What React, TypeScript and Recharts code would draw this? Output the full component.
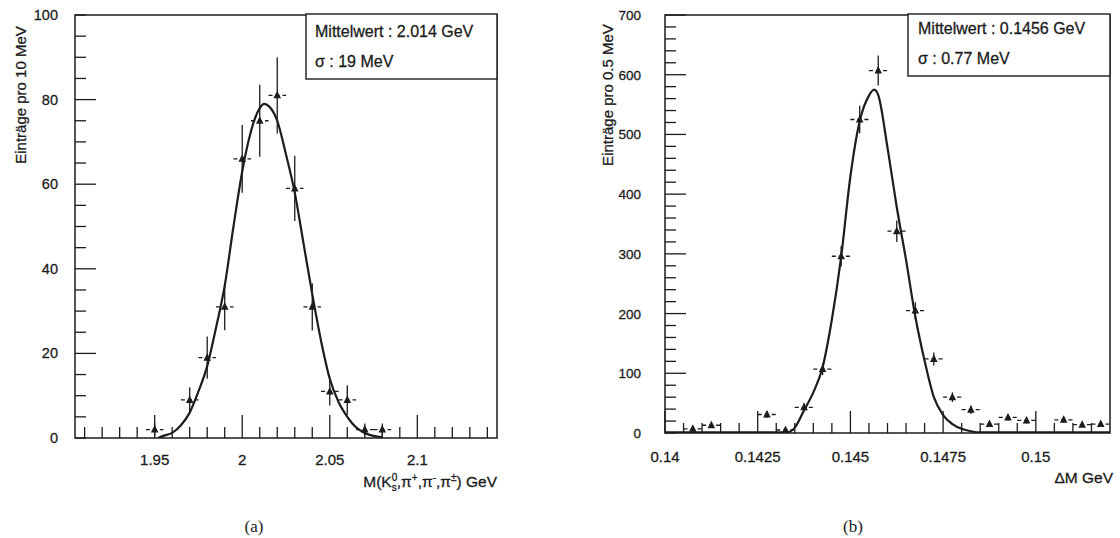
import React from 'react';
import { ComposedChart, Scatter, Line, XAxis, YAxis, ErrorBar, ReferenceArea } from 'recharts';

// ---------- Panel (a) data ----------
const leftBinX = [1.95, 1.97, 1.98, 1.99, 2.0, 2.01, 2.02, 2.03, 2.04, 2.05, 2.06, 2.07, 2.08];
const leftCounts = [2, 9, 19, 31, 66, 75, 81, 59, 31, 11, 9, 2, 2];
const leftErrors = [1.5, 3, 5, 5.5, 8, 8.5, 9, 7.7, 5.6, 3.3, 3.5, 1.4, 1.4];
const leftBinHalf = 0.005;
const leftFitX = [1.952, 1.955, 1.96, 1.965, 1.97, 1.975, 1.98, 1.985, 1.99, 1.995, 2.0, 2.005, 2.01, 2.0125, 2.015, 2.02, 2.025, 2.03, 2.035, 2.04, 2.045, 2.05, 2.055, 2.06, 2.065, 2.07, 2.075, 2.08];
const leftFitY = [0, 0.5, 1.2, 3, 6, 11, 17, 26, 36, 50, 63, 72.5, 78, 79, 78.5, 75, 67, 58, 46, 34, 23, 14, 8.5, 5, 2.5, 1.2, 0.5, 0.2];
const leftXTicks = [1.91, 1.92, 1.93, 1.94, 1.95, 1.96, 1.97, 1.98, 1.99, 2.0, 2.01, 2.02, 2.03, 2.04, 2.05, 2.06, 2.07, 2.08, 2.09, 2.1, 2.11, 2.12, 2.13, 2.14];
const leftXLabels = [1.95, 2, 2.05, 2.1];
const leftYTicks = [0, 5, 10, 15, 20, 25, 30, 35, 40, 45, 50, 55, 60, 65, 70, 75, 80, 85, 90, 95, 100];
const leftYLabels = [0, 20, 40, 60, 80, 100];

// ---------- Panel (b) data ----------
const rightBinX = [0.14075, 0.14125, 0.14275, 0.14325, 0.14375, 0.14425, 0.14475, 0.14525, 0.14575, 0.14625, 0.14675, 0.14725, 0.14775, 0.14825, 0.14875, 0.14925, 0.14975, 0.15075, 0.15125, 0.15175];
const rightCounts = [7, 13, 31, 5, 43, 107, 296, 525, 607, 338, 205, 124, 60, 39, 15, 26, 21, 22, 14, 15];
const rightErrors = [3, 4, 6, 2.5, 7, 10, 17, 23, 25, 18, 14, 11, 8, 7, 4, 5, 5, 5, 4, 4];
const rightBinHalf = 0.00025;
const rightFitX = [0.14, 0.141, 0.142, 0.143, 0.1433, 0.1435, 0.14375, 0.144, 0.14425, 0.1445, 0.14475, 0.145, 0.14525, 0.1455, 0.14564, 0.14575, 0.146, 0.14625, 0.1465, 0.14675, 0.147, 0.14725, 0.1475, 0.14775, 0.148, 0.14825, 0.1485, 0.149, 0.15, 0.152];
const rightFitY = [1, 1, 1, 1, 1, 9, 38, 68, 110, 190, 295, 430, 522, 565, 575, 566, 478, 378, 290, 195, 121, 60, 30, 15, 7, 3, 1, 1, 1, 1];
const rightXTicks = [0.14, 0.1405, 0.141, 0.1415, 0.142, 0.1425, 0.143, 0.1435, 0.144, 0.1445, 0.145, 0.1455, 0.146, 0.1465, 0.147, 0.1475, 0.148, 0.1485, 0.149, 0.1495, 0.15, 0.1505, 0.151, 0.1515];
const rightXLabels = [0.14, 0.1425, 0.145, 0.1475, 0.15];
const rightYTicks = [0, 20, 40, 60, 80, 100, 120, 140, 160, 180, 200, 220, 240, 260, 280, 300, 320, 340, 360, 380, 400, 420, 440, 460, 480, 500, 520, 540, 560, 580, 600, 620, 640, 660, 680, 700];
const rightYLabels = [0, 100, 200, 300, 400, 500, 600, 700];

const INK = '#1c1c1c';
const FONT = '"Liberation Sans", Arial, Helvetica, sans-serif';
const TXT = { fontFamily: FONT, fill: INK, stroke: INK, strokeWidth: 0.3 };

const has = (arr: number[], v: number) => arr.some((a) => Math.abs(a - v) < 1e-9);

const makeXTick = (labels: number[], longLen: number, shortLen: number, labelDy: number) => (props: any) => {
  const { x, y, payload } = props;
  const v = payload.value;
  const major = has(labels, v);
  return (
    <g>
      <line x1={x} x2={x} y1={y} y2={y - (major ? longLen : shortLen)} stroke={INK} strokeWidth={1.3} />
      {major && (
        <text x={x} y={y + labelDy} textAnchor="middle" fontSize={15} {...TXT}>
          {String(v)}
        </text>
      )}
    </g>
  );
};

const makeYTick = (labels: number[], majors: number[], longLen: number, shortLen: number, labelDx: number, fs: number) => (props: any) => {
  const { x, y, payload } = props;
  const v = payload.value;
  const major = has(majors, v);
  const lab = has(labels, v);
  return (
    <g>
      <line x1={x} x2={x + (major ? longLen : shortLen)} y1={y} y2={y} stroke={INK} strokeWidth={1.3} />
      {lab && (
        <text x={x - labelDx} y={y + 5} textAnchor="end" fontSize={fs} {...TXT}>
          {String(v)}
        </text>
      )}
    </g>
  );
};

const Triangle = (props: any) => {
  const { cx, cy } = props;
  if (cx == null || cy == null) return null;
  return <polygon points={`${cx - 3.8},${cy + 3} ${cx + 3.8},${cy + 3} ${cx},${cy - 4.5}`} fill={INK} />;
};

const leftPoints = leftBinX.map((x, i) => ({ x, y: leftCounts[i], ey: leftErrors[i], ex: leftBinHalf }));
const leftFit = leftFitX.map((x, i) => ({ x, y: leftFitY[i] }));
const rightPoints = rightBinX.map((x, i) => ({ x, y: rightCounts[i], ey: rightErrors[i], ex: rightBinHalf }));
const rightFit = rightFitX.map((x, i) => ({ x, y: rightFitY[i] }));

export default function App() {
  return (
    <div style={{ position: 'absolute', left: 0, top: 0, width: 1120, height: 538, background: '#fff' }}>
      <div style={{ position: 'absolute', left: 0, top: 0 }}>
        <ComposedChart width={560} height={538} margin={{ top: 15, left: 35, right: 63, bottom: 70 }}>
          <XAxis
            type="number"
            dataKey="x"
            domain={[1.9045, 2.1455]}
            allowDataOverflow
            ticks={leftXTicks}
            interval={0}
            tickSize={0}
            tickMargin={0}
            axisLine={false}
            tickLine={false}
            height={30}
            tick={makeXTick(leftXLabels, 23, 11, 27)}
          />
          <YAxis
            type="number"
            dataKey="y"
            domain={[0, 100]}
            allowDataOverflow
            ticks={leftYTicks}
            interval={0}
            tickSize={0}
            tickMargin={0}
            axisLine={false}
            tickLine={false}
            width={40}
            tick={makeYTick(leftYLabels, [20, 40, 60, 80], 21, 11, 17, 14.5)}
          />
          <ReferenceArea x1={1.9045} x2={2.1455} y1={0} y2={100} fill="none" stroke={INK} strokeWidth={1.5} />
          <Line data={leftFit} dataKey="y" type="monotone" dot={false} stroke={INK} strokeWidth={2.2} isAnimationActive={false} />
          <Scatter data={leftPoints} dataKey="y" shape={Triangle} isAnimationActive={false}>
            <ErrorBar dataKey="ey" direction="y" width={0} stroke={INK} strokeWidth={1.3} />
            <ErrorBar dataKey="ex" direction="x" width={0} stroke={INK} strokeWidth={1.3} strokeDasharray="4 3" />
          </Scatter>
        </ComposedChart>
      </div>
      <div style={{ position: 'absolute', left: 560, top: 0 }}>
        <ComposedChart width={560} height={538} margin={{ top: 15, left: 65, right: 10, bottom: 75 }}>
          <XAxis
            type="number"
            dataKey="x"
            domain={[0.14, 0.152]}
            allowDataOverflow
            ticks={rightXTicks}
            interval={0}
            tickSize={0}
            tickMargin={0}
            axisLine={false}
            tickLine={false}
            height={30}
            tick={makeXTick(rightXLabels, 22, 10, 29)}
          />
          <YAxis
            type="number"
            dataKey="y"
            domain={[0, 700]}
            allowDataOverflow
            ticks={rightYTicks}
            interval={0}
            tickSize={0}
            tickMargin={0}
            axisLine={false}
            tickLine={false}
            width={40}
            tick={makeYTick(rightYLabels, [100, 200, 300, 400, 500, 600, 700], 21, 11, 24, 13.5)}
          />
          <ReferenceArea x1={0.14} x2={0.152} y1={0} y2={700} fill="none" stroke={INK} strokeWidth={1.5} />
          <Line data={rightFit} dataKey="y" type="monotone" dot={false} stroke={INK} strokeWidth={2.2} isAnimationActive={false} />
          <Scatter data={rightPoints} dataKey="y" shape={Triangle} isAnimationActive={false}>
            <ErrorBar dataKey="ey" direction="y" width={0} stroke={INK} strokeWidth={1.3} />
            <ErrorBar dataKey="ex" direction="x" width={0} stroke={INK} strokeWidth={1.3} strokeDasharray="4 3" />
          </Scatter>
        </ComposedChart>
      </div>
      <svg width={1120} height={538} style={{ position: 'absolute', left: 0, top: 0, pointerEvents: 'none' }}>
        <g {...TXT} fontSize={15}>
          <text transform="translate(26,95) rotate(-90)" textAnchor="middle">Einträge pro 10 MeV</text>
          <text transform="translate(613,95) rotate(-90)" textAnchor="middle">Einträge pro 0.5 MeV</text>
        </g>
        <rect x={306} y={14} width={191} height={65} fill="#fff" stroke={INK} strokeWidth={1.4} />
        <rect x={908} y={14} width={202} height={62} fill="#fff" stroke={INK} strokeWidth={1.4} />
        <g {...TXT} fontSize={16}>
          <text x={315} y={37}>Mittelwert : 2.014 GeV</text>
          <text x={315} y={67}>σ : 19 MeV</text>
          <text x={918} y={34}>Mittelwert : 0.1456 GeV</text>
          <text x={918} y={64}>σ : 0.77 MeV</text>
        </g>
        <g {...TXT} fontSize={15.5}>
          <text x={497} y={487} textAnchor="end">
            M(K
            <tspan fontSize={10} dy={-6}>0</tspan>
            <tspan fontSize={10} dx={-5.5} dy={10}>s</tspan>
            <tspan dy={-4}>,π</tspan>
            <tspan fontSize={10} dy={-6}>+</tspan>
            <tspan dy={6}>,π</tspan>
            <tspan fontSize={10} dy={-6}>-</tspan>
            <tspan dy={6}>,π</tspan>
            <tspan fontSize={10} dy={-6}>±</tspan>
            <tspan dy={6}>) GeV</tspan>
          </text>
          <text x={1113} y={483} textAnchor="end">ΔM GeV</text>
        </g>
        <g fontFamily='"Liberation Serif", "DejaVu Serif", serif' fill={INK} fontSize={17}>
          <text x={254} y={532} textAnchor="middle">(a)</text>
          <text x={853} y={532} textAnchor="middle">(b)</text>
        </g>
      </svg>
    </div>
  );
}
